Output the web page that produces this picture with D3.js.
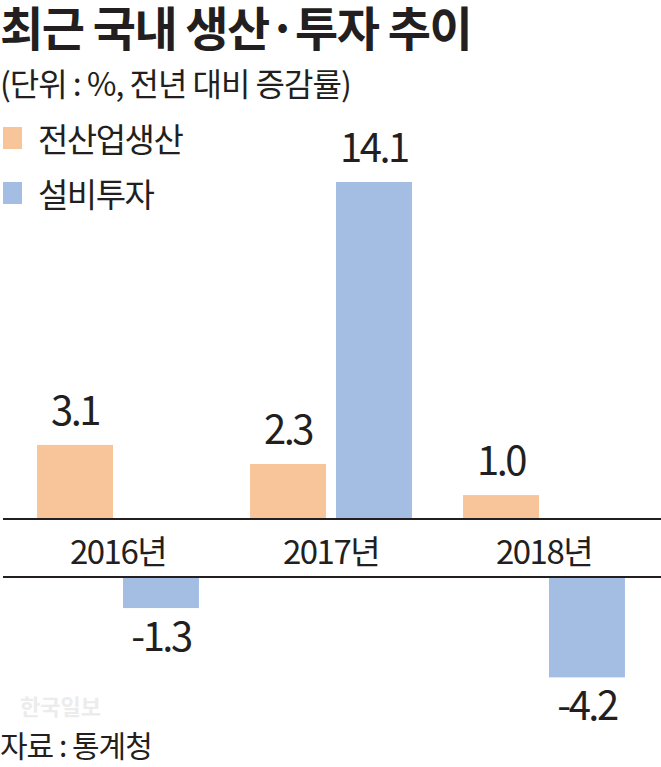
<!DOCTYPE html>
<html>
<head>
<meta charset="utf-8">
<title>최근 국내 생산·투자 추이</title>
<script src="https://d3js.org/d3.v7.min.js"></script>
<style>
  html, body { margin:0; padding:0; background:#fff; }
  svg { display:block; }
  text { font-family: "Noto Sans CJK KR", "Noto Sans", sans-serif; fill:#231f20; }
</style>
</head>
<body>
<svg id="chart" width="661" height="767"></svg>
<script>
// data
var years = ["2016년", "2017년", "2018년"];
var seriesNames = ["전산업생산", "설비투자"];
var production = [3.1, 2.3, 1.0];
var investment = [-1.3, 14.1, -4.2];
var seriesColors = ["#f8c49a", "#a3bde3"];

var width = 661, height = 767;
var svg = d3.select("#chart");

var zeroY = 519;      // top axis line
var negGap = 58;      // year labels sit between the two lines, negatives start below

var rows = [];
years.forEach(function(y, i) {
  rows.push({ year: y, key: seriesNames[0], value: production[i] });
  rows.push({ year: y, key: seriesNames[1], value: investment[i] });
});

var x0 = d3.scaleBand().domain(years).range([11.5, 650.5])
    .paddingInner(0.24).paddingOuter(0.12);
var x1 = d3.scaleBand().domain(seriesNames).range([0, x0.bandwidth()])
    .paddingInner(10 / 86);
var y = d3.scaleLinear().domain([0, 14.1]).range([zeroY, 182]);
var color = d3.scaleOrdinal().domain(seriesNames).range(seriesColors);

function yTop(v) { return v >= 0 ? y(v) : zeroY + negGap; }
function yBot(v) { return v >= 0 ? zeroY : y(v) + negGap; }
function fmt(v) { return d3.format(".1f")(v).replace("−", "-"); }

// bars
svg.append("g").selectAll("rect")
  .data(rows)
  .enter().append("rect")
    .attr("x", function(d) { return x0(d.year) + x1(d.key); })
    .attr("y", function(d) { return yTop(d.value); })
    .attr("width", x1.bandwidth())
    .attr("height", function(d) { return yBot(d.value) - yTop(d.value); })
    .attr("fill", function(d) { return color(d.key); });

// value labels
svg.append("g").selectAll("text")
  .data(rows)
  .enter().append("text")
    .attr("x", function(d) { return x0(d.year) + x1(d.key) + x1.bandwidth() / 2; })
    .attr("y", function(d) { return d.value >= 0 ? yTop(d.value) - 20 : yBot(d.value) + 43; })
    .attr("text-anchor", "middle")
    .style("font-size", "40px")
    .style("letter-spacing", "-2.5px")
    .text(function(d) { return fmt(d.value); });

// the two horizontal lines
[zeroY, zeroY + negGap].forEach(function(ly) {
  svg.append("line")
    .attr("x1", 3).attr("x2", width)
    .attr("y1", ly).attr("y2", ly)
    .attr("stroke", "#231f20")
    .attr("stroke-width", 2.2);
});

// year labels
svg.append("g").selectAll("text")
  .data(years)
  .enter().append("text")
    .attr("x", function(d) { return x0(d) + x0.bandwidth() / 2; })
    .attr("y", 564)
    .attr("text-anchor", "middle")
    .style("font-size", "33px")
    .style("letter-spacing", "-1.5px")
    .text(function(d) { return d; });

// title + subtitle
svg.append("text").text("최근 국내 생산·투자 추이")
  .attr("x", 0).attr("y", 46)
  .style("font-size", "47px")
  .style("font-weight", "bold")
  .style("letter-spacing", "-1.5px");

svg.append("text").text("(단위 : %, 전년 대비 증감률)")
  .attr("x", 0).attr("y", 96)
  .style("font-size", "32px")
  .style("letter-spacing", "-1px");

// legend
var legend = svg.append("g").selectAll("g")
  .data(seriesNames)
  .enter().append("g")
    .attr("transform", function(d, i) { return "translate(3," + (127 + i * 55) + ")"; });
legend.append("rect")
  .attr("width", 19).attr("height", 22)
  .attr("fill", function(d) { return color(d); });
legend.append("text")
  .attr("x", 35).attr("y", 25)
  .style("font-size", "33px")
  .style("letter-spacing", "-1.5px")
  .text(function(d) { return d; });

// watermark + source
svg.append("text").text("한국일보")
  .attr("x", 20).attr("y", 715)
  .style("font-size", "22px")
  .style("font-weight", "bold")
  .style("fill", "#ececec");

svg.append("text").text("자료 : 통계청")
  .attr("x", 0).attr("y", 757)
  .style("font-size", "30px")
  .style("letter-spacing", "-1px");
</script>
</body>
</html>
